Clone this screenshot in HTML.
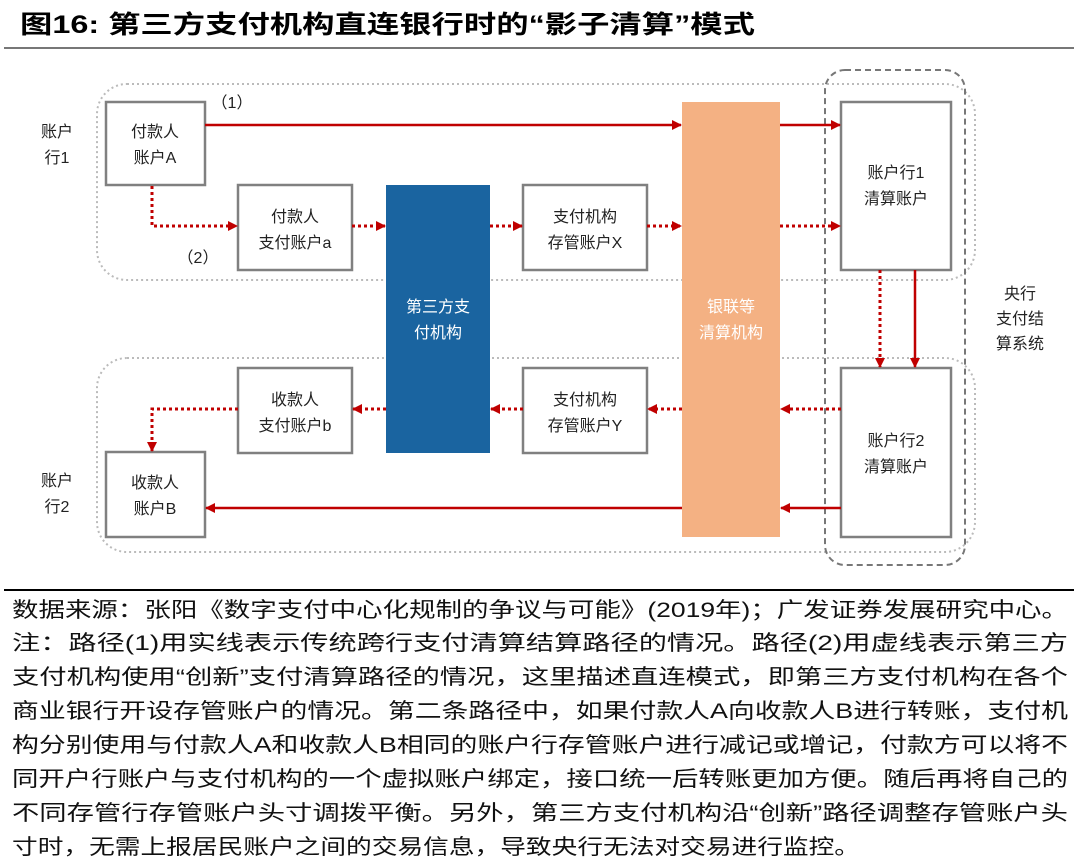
<!DOCTYPE html>
<html><head><meta charset="utf-8"><style>
html,body{margin:0;padding:0;background:#fff;}
svg{display:block;}
text{font-family:"Liberation Sans","Noto Sans CJK SC",sans-serif;}
</style></head><body>
<svg width="1078" height="864" viewBox="0 0 1078 864" xmlns="http://www.w3.org/2000/svg">
<defs>
<marker id="ar" markerWidth="10" markerHeight="10" refX="9" refY="5" orient="auto" markerUnits="userSpaceOnUse">
<path d="M0,0 L10,5 L0,10 z" fill="#c00000"/></marker>
</defs>
<text x="20" y="33" font-size="25" font-weight="bold" fill="#000" textLength="735" lengthAdjust="spacingAndGlyphs">图16: 第三方支付机构直连银行时的“影子清算”模式</text>
<line x1="4" y1="48" x2="1074" y2="48" stroke="#777" stroke-width="2"/>

<rect x="97" y="84" width="878" height="196" rx="30" fill="none" stroke="#bbb" stroke-width="2" stroke-dasharray="2,3"/>
<rect x="97" y="358" width="878" height="194" rx="30" fill="none" stroke="#bbb" stroke-width="2" stroke-dasharray="2,3"/>

<rect x="386" y="185" width="104" height="268" fill="#1a64a0"/>
<rect x="682" y="102" width="98" height="435" fill="#f4b183"/>
<text x="438" y="312" font-size="16" fill="#fff" text-anchor="middle">第三方支</text>
<text x="438" y="338" font-size="16" fill="#fff" text-anchor="middle">付机构</text>
<text x="731" y="312" font-size="16" fill="#fff" text-anchor="middle">银联等</text>
<text x="731" y="338" font-size="16" fill="#fff" text-anchor="middle">清算机构</text>

<rect x="825" y="70" width="140" height="495" rx="20" fill="none" stroke="#777" stroke-width="2" stroke-dasharray="6,4"/>

<g fill="#fff" stroke="#808080" stroke-width="2.5">
<rect x="106" y="102" width="99" height="83"/>
<rect x="238" y="185" width="114" height="85"/>
<rect x="523" y="185" width="124" height="85"/>
<rect x="841" y="102" width="110" height="168"/>
<rect x="841" y="368" width="110" height="169"/>
<rect x="238" y="368" width="114" height="85"/>
<rect x="523" y="368" width="124" height="85"/>
<rect x="106" y="452" width="99" height="85"/>
</g>
<g font-size="16" fill="#222" text-anchor="middle">
<text x="155" y="137">付款人</text><text x="155" y="163">账户A</text>
<text x="295" y="222">付款人</text><text x="295" y="248">支付账户a</text>
<text x="585" y="222">支付机构</text><text x="585" y="248">存管账户X</text>
<text x="896" y="178">账户行1</text><text x="896" y="204">清算账户</text>
<text x="896" y="446">账户行2</text><text x="896" y="472">清算账户</text>
<text x="295" y="405">收款人</text><text x="295" y="431">支付账户b</text>
<text x="585" y="405">支付机构</text><text x="585" y="431">存管账户Y</text>
<text x="155" y="488">收款人</text><text x="155" y="514">账户B</text>
<text x="57" y="137">账户</text><text x="57" y="163">行1</text>
<text x="57" y="486">账户</text><text x="57" y="512">行2</text>
<text x="1020" y="299">央行</text><text x="1020" y="324">支付结</text><text x="1020" y="349">算系统</text>
<text x="232" y="108">（1）</text><text x="198" y="263">（2）</text>
</g>

<g stroke="#c00000" stroke-width="2.5" fill="none">
<line x1="205" y1="125" x2="681" y2="125" marker-end="url(#ar)"/>
<line x1="780" y1="125" x2="840" y2="125" marker-end="url(#ar)"/>
<line x1="915" y1="270" x2="915" y2="367" marker-end="url(#ar)"/>
<line x1="841" y1="508" x2="781" y2="508" marker-end="url(#ar)"/>
<line x1="682" y1="508" x2="206" y2="508" marker-end="url(#ar)"/>
</g>
<g stroke="#c00000" stroke-width="3" fill="none" stroke-dasharray="3,3">
<polyline points="152,186 152,226 237,226" marker-end="url(#ar)"/>
<line x1="352" y1="226" x2="385" y2="226" marker-end="url(#ar)"/>
<line x1="490" y1="226" x2="522" y2="226" marker-end="url(#ar)"/>
<line x1="647" y1="226" x2="681" y2="226" marker-end="url(#ar)"/>
<line x1="780" y1="226" x2="840" y2="226" marker-end="url(#ar)"/>
<line x1="880" y1="270" x2="880" y2="367" marker-end="url(#ar)"/>
<line x1="841" y1="409" x2="781" y2="409" marker-end="url(#ar)"/>
<line x1="682" y1="409" x2="648" y2="409" marker-end="url(#ar)"/>
<line x1="523" y1="409" x2="491" y2="409" marker-end="url(#ar)"/>
<line x1="386" y1="409" x2="353" y2="409" marker-end="url(#ar)"/>
<polyline points="238,409 152,409 152,451" marker-end="url(#ar)"/>
</g>

<line x1="4" y1="590" x2="1074" y2="590" stroke="#000" stroke-width="2"/>
<g font-size="21" fill="#111">
<text x="12" y="617" textLength="1056" lengthAdjust="spacingAndGlyphs">数据来源：张阳《数字支付中心化规制的争议与可能》(2019年)；广发证券发展研究中心。</text>
<text x="12" y="650" textLength="1056" lengthAdjust="spacingAndGlyphs">注：路径(1)用实线表示传统跨行支付清算结算路径的情况。路径(2)用虚线表示第三方</text>
<text x="12" y="684" textLength="1056" lengthAdjust="spacingAndGlyphs">支付机构使用“创新”支付清算路径的情况，这里描述直连模式，即第三方支付机构在各个</text>
<text x="12" y="718" textLength="1056" lengthAdjust="spacingAndGlyphs">商业银行开设存管账户的情况。第二条路径中，如果付款人A向收款人B进行转账，支付机</text>
<text x="12" y="752" textLength="1056" lengthAdjust="spacingAndGlyphs">构分别使用与付款人A和收款人B相同的账户行存管账户进行减记或增记，付款方可以将不</text>
<text x="12" y="786" textLength="1056" lengthAdjust="spacingAndGlyphs">同开户行账户与支付机构的一个虚拟账户绑定，接口统一后转账更加方便。随后再将自己的</text>
<text x="12" y="820" textLength="1056" lengthAdjust="spacingAndGlyphs">不同存管行存管账户头寸调拨平衡。另外，第三方支付机构沿“创新”路径调整存管账户头</text>
<text x="12" y="854" textLength="848" lengthAdjust="spacingAndGlyphs">寸时，无需上报居民账户之间的交易信息，导致央行无法对交易进行监控。</text>
</g>
</svg>
</body></html>
